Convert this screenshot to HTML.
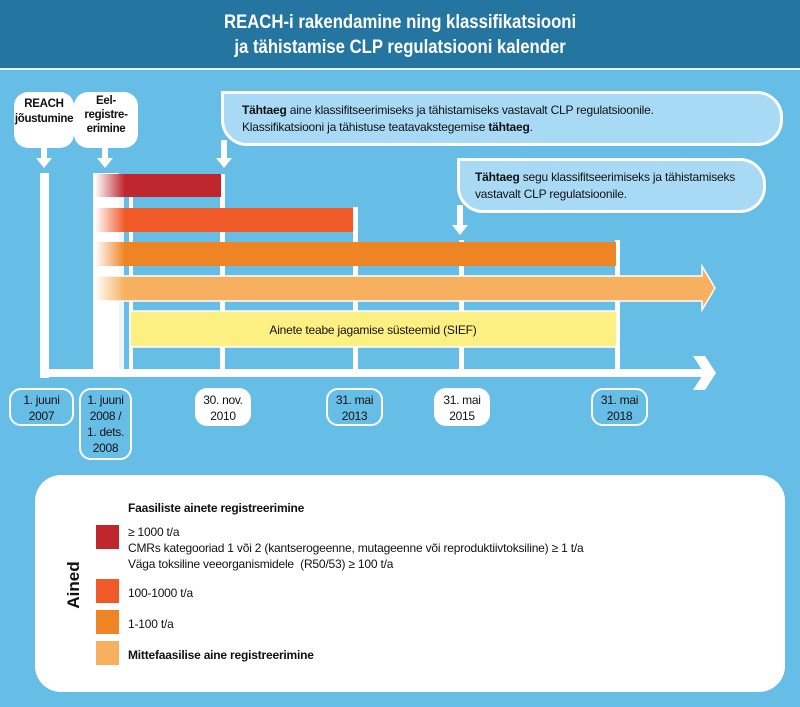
<!DOCTYPE html>
<html><head><meta charset="utf-8"><style>
body{margin:0;width:800px;height:707px;background:#66bde6;font-family:"Liberation Sans",sans-serif;position:relative;overflow:hidden}
.a{position:absolute}
.hdr{left:0;top:0;width:800px;height:70px;background:#2475a0;border-bottom:2px solid #e8f4fb;color:#fff;font-weight:bold;font-size:19px;text-align:center;line-height:25px;padding-top:10px;box-sizing:border-box}
.hdr span{display:inline-block;transform:scaleX(.88)}
.w{background:#fff}
.bub{background:#fff;border-radius:14px;font-weight:bold;font-size:11.5px;letter-spacing:-.3px;text-align:center;line-height:15px;color:#111}
.date{border:2px solid #fff;border-radius:12px;font-size:12px;letter-spacing:-.3px;text-align:center;line-height:16px;color:#111;box-sizing:border-box;padding-top:2px}
.call{background:#a8daf5;border:3px solid #fff;border-radius:0 26px 26px 26px;font-size:12px;letter-spacing:-.2px;line-height:17px;color:#111;box-sizing:border-box;white-space:nowrap}
.sq{width:23px;height:24px;left:96px}
.lt{font-size:12px;letter-spacing:-.2px;color:#111;left:128px;line-height:16px;white-space:nowrap}
</style></head><body>
<div class="a hdr"><span>REACH-i rakendamine ning klassifikatsiooni<br>ja tähistamise CLP regulatsiooni kalender</span></div>

<div class="a bub" style="left:14px;top:92px;width:60px;height:56px;padding-top:5px;box-sizing:border-box">REACH<br>jõustumine</div>
<div class="a bub" style="left:74px;top:92px;width:64px;height:56px;padding-top:2px;box-sizing:border-box;line-height:14px">Eel-<br>registre-<br>erimine</div>
<svg class="a" style="left:0;top:0" width="800" height="470">
<g fill="#fff">
<rect x="41" y="148" width="6" height="12"/><polygon points="36,158 52,158 44,168"/>
<rect x="102" y="148" width="6" height="12"/><polygon points="97,158 113,158 105,168"/>
<rect x="221" y="140" width="6" height="20"/><polygon points="216,158 232,158 224,168"/>
<rect x="457" y="205" width="6" height="22"/><polygon points="452,225 468,225 460,235"/>
<rect x="40" y="173" width="9" height="205"/>
<rect x="40" y="369" width="670" height="8"/>
<polygon points="693,356 705,356 716,373 705,390 693,390 704,373"/>
<rect x="93" y="173" width="26" height="196"/>
<rect x="119" y="197" width="5" height="172" fill="#eaf6fc"/>
<rect x="129" y="197" width="4" height="172"/>
<rect x="220" y="174" width="5" height="195"/>
<rect x="353" y="207" width="5" height="162"/>
<rect x="459" y="240" width="5" height="129"/>
<rect x="615" y="240" width="5" height="129"/>
</g>
<defs>
<linearGradient id="g1"><stop offset="0" stop-color="#fff"/><stop offset="1" stop-color="#fff" stop-opacity="0"/></linearGradient>
</defs>
<rect x="95" y="174" width="126" height="23" fill="#c0262e"/>
<rect x="95" y="208" width="258" height="24" fill="#f05a28"/>
<rect x="95" y="242" width="521" height="24" fill="#ef8424"/>
<polygon points="95,276 702,276 702,266 715,288 702,310 702,301 95,301" fill="#f7b060" stroke="#fff" stroke-width="1.5"/>
<rect x="95" y="174" width="30" height="127" fill="url(#g1)"/>
<rect x="130" y="311" width="487" height="36" fill="#fdf082" stroke="#fff" stroke-width="1.5"/>
<text x="373" y="334" font-size="12" letter-spacing="-0.2" text-anchor="middle" font-family="Liberation Sans" fill="#111">Ainete teabe jagamise süsteemid (SIEF)</text>
</svg>

<div class="a call" style="left:221px;top:91px;width:562px;height:55px;padding:8px 0 0 18px"><b>Tähtaeg</b> aine klassifitseerimiseks ja tähistamiseks vastavalt CLP regulatsioonile.<br>Klassifikatsiooni ja tähistuse teatavakstegemise <b>tähtaeg</b>.</div>
<div class="a call" style="left:457px;top:158px;width:309px;height:55px;padding:8px 0 0 15px"><b>Tähtaeg</b> segu klassifitseerimiseks ja tähistamiseks<br>vastavalt CLP regulatsioonile.</div>

<div class="a date" style="left:9px;top:388px;width:65px;height:38px">1. juuni<br>2007</div>
<div class="a date" style="left:79px;top:388px;width:53px;height:72px">1. juuni<br>2008 /<br>1. dets.<br>2008</div>
<div class="a date" style="left:195px;top:388px;width:56px;height:38px;background:#fff">30. nov.<br>2010</div>
<div class="a date" style="left:326px;top:388px;width:57px;height:38px">31. mai<br>2013</div>
<div class="a date" style="left:434px;top:388px;width:56px;height:38px;background:#fff">31. mai<br>2015</div>
<div class="a date" style="left:591px;top:388px;width:57px;height:38px">31. mai<br>2018</div>

<div class="a w" style="left:35px;top:475px;width:750px;height:217px;border-radius:26px"></div>
<div class="a" style="left:44px;top:575px;transform:rotate(-90deg);transform-origin:center;font-weight:bold;font-size:17px;color:#111;width:60px;text-align:center">Ained</div>
<div class="a lt" style="top:500px;font-weight:bold">Faasiliste ainete registreerimine</div>
<div class="a sq" style="top:525px;background:#c0262e"></div>
<div class="a lt" style="top:524px">≥ 1000 t/a<br>CMRs kategooriad 1 või 2 (kantserogeenne, mutageenne või reproduktiivtoksiline) ≥ 1 t/a<br>Väga toksiline veeorganismidele&nbsp; (R50/53) ≥ 100 t/a</div>
<div class="a sq" style="top:579px;background:#f05a28"></div>
<div class="a lt" style="top:585px">100-1000 t/a</div>
<div class="a sq" style="top:610px;background:#ef8424"></div>
<div class="a lt" style="top:616px">1-100 t/a</div>
<div class="a sq" style="top:641px;background:#f7b060"></div>
<div class="a lt" style="top:647px;font-weight:bold">Mittefaasilise aine registreerimine</div>
</body></html>
